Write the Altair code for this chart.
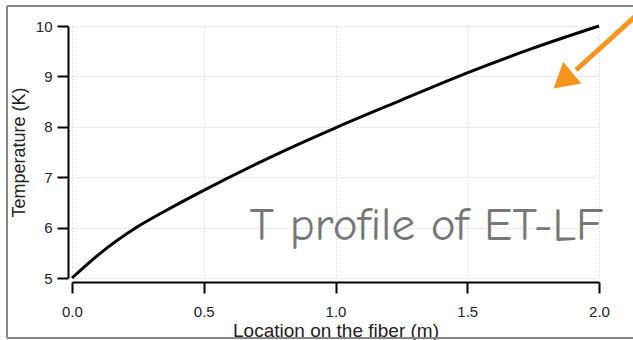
import altair as alt
import pandas as pd

# curve
loc = [0.0, 0.1, 0.25, 0.35, 0.5, 0.75, 1.0, 1.25, 1.5, 1.75, 2.0]
temp = [5.0, 5.46, 6.02, 6.32, 6.74, 7.39, 7.98, 8.53, 9.07, 9.56, 10.0]

x_ticks = [0.0, 0.5, 1.0, 1.5, 2.0]
y_ticks = [5, 6, 7, 8, 9, 10]

note_text = ["T profile of ET-LF"]
note_x = [1.345]
note_y = [5.75]

arrow_x = [2.16]
arrow_y = [10.30]
arrow_x2 = [1.913]
arrow_y2 = [9.127]
head_x = [1.875]
head_y = [8.968]

df = pd.DataFrame({"loc": loc, "temp": temp})

xs = alt.Scale(domain=[0, 2], nice=False, zero=False)
ys = alt.Scale(domain=[5, 10], nice=False, zero=False)

xaxis = alt.Axis(values=x_ticks, format=".1f", title="Location on the fiber (m)",
                 offset=4, tickSize=11, tickWidth=2, domainWidth=2,
                 domainColor="black", tickColor="black", labelFlush=False,
                 labelPadding=11, labelFontSize=15, labelColor="#222",
                 labelFont="Liberation Sans", titleFont="Liberation Sans",
                 titleFontSize=19, titleFontWeight="normal", titleColor="#222",
                 titleY=54, titleBaseline="alphabetic",
                 grid=True, gridColor="#dddddd", gridDash=[2, 2], gridWidth=1)
yaxis = alt.Axis(values=y_ticks, format="d", title="Temperature (K)",
                 offset=4, tickSize=11, tickWidth=2, domainWidth=2,
                 domainColor="black", tickColor="black", labelFlush=False,
                 labelPadding=5, labelFontSize=15, labelColor="#222",
                 labelFont="Liberation Sans", titleFont="Liberation Sans",
                 titleFontSize=18, titleFontWeight="normal", titleColor="#222",
                 titleX=-49, titleY=126, titleBaseline="middle",
                 grid=True, gridColor="#dddddd", gridDash=[2, 2], gridWidth=1)

curve = alt.Chart(df).mark_line(color="black", strokeWidth=3, interpolate="monotone").encode(
    x=alt.X("loc:Q", scale=xs, axis=xaxis),
    y=alt.Y("temp:Q", scale=ys, axis=yaxis),
)

note = alt.Chart(pd.DataFrame({"t": note_text, "x": note_x, "y": note_y})).mark_text(
    font="Comic Sans MS, Comic Neue, Open Sans", fontSize=47, color="#777777",
    align="center", baseline="alphabetic"
).encode(x=alt.X("x:Q", scale=xs), y=alt.Y("y:Q", scale=ys), text="t:N")

arrow_df = pd.DataFrame({"x": arrow_x, "y": arrow_y, "x2": arrow_x2, "y2": arrow_y2})
arrow_line = alt.Chart(arrow_df).mark_rule(color="#f7941d", strokeWidth=5).encode(
    x=alt.X("x:Q", scale=xs), y=alt.Y("y:Q", scale=ys), x2="x2:Q", y2="y2:Q"
)
head = alt.Chart(pd.DataFrame({"x": head_x, "y": head_y})).mark_point(
    shape="triangle", filled=True, size=800, angle=230, color="#f7941d", opacity=1
).encode(x=alt.X("x:Q", scale=xs), y=alt.Y("y:Q", scale=ys))

frame_left = alt.Chart(pd.DataFrame({"a": [0]})).mark_rule(color="#888888", strokeWidth=2).encode(
    x=alt.value(-65), y=alt.value(-20), y2=alt.value(312))
frame_top = alt.Chart(pd.DataFrame({"a": [0]})).mark_rule(color="#888888", strokeWidth=2).encode(
    x=alt.value(-65), x2=alt.value(561), y=alt.value(-20))
frame_bottom = alt.Chart(pd.DataFrame({"a": [0]})).mark_rule(color="#888888", strokeWidth=2).encode(
    x=alt.value(-65), x2=alt.value(561), y=alt.value(312))

chart = alt.layer(frame_left, frame_top, frame_bottom, curve, note, arrow_line, head).properties(
    width=527, height=252,
    autosize=alt.AutoSizeParams(type="none"),
    padding={"left": 72, "top": 26, "right": 34, "bottom": 62},
    background="white",
).configure_view(stroke="transparent")

chart.save("out.html", embed_options={"renderer": "svg", "actions": False})
